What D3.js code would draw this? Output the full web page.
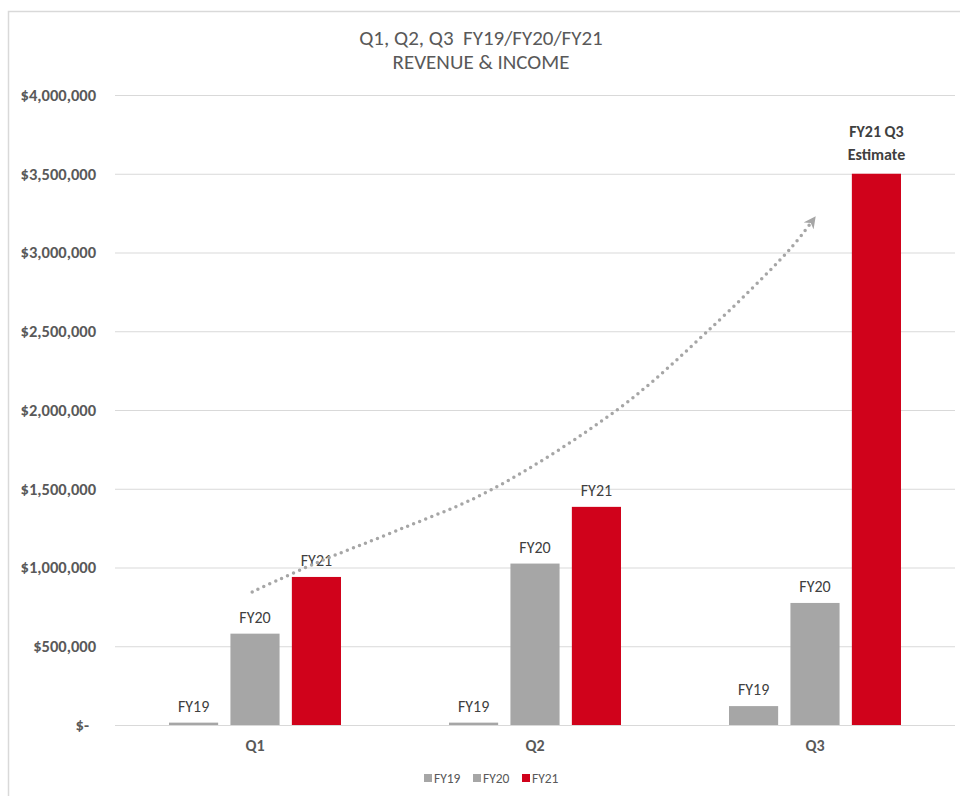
<!DOCTYPE html>
<html>
<head>
<meta charset="utf-8">
<script src="https://cdn.jsdelivr.net/npm/d3@7"></script>
<style>
  body { margin: 0; background: #fff; }
  text { font-family: Carlito, Calibri, "Liberation Sans", Arial, sans-serif; white-space: pre; }
</style>
</head>
<body>
<div id="chart"></div>
<script>
// chart data
var quarters = ["Q1", "Q2", "Q3"];
var years = ["FY19", "FY20", "FY21"];
var fy19 = [15000, 15000, 120000];
var fy20 = [580000, 1025000, 775000];
var fy21 = [940000, 1385000, 3500000];
var yTicks = [0, 500000, 1000000, 1500000, 2000000, 2500000, 3000000, 3500000, 4000000];
var titleLines = ["Q1, Q2, Q3  FY19/FY20/FY21", "REVENUE & INCOME"];
var estimateLabel = ["FY21 Q3", "Estimate"];
// trend arrow, in (quarter position, dollars)
var trendX = [0.49, 0.72, 1.0, 1.34, 1.8, 2.11, 2.41, 2.49];
var trendY = [845000, 1030000, 1230000, 1490000, 2010000, 2490000, 3020000, 3200000];

var colors = { FY19: "#a6a6a6", FY20: "#a6a6a6", FY21: "#d0021b" };
var series = [fy19, fy20, fy21];

var w = 960, h = 796;
var mLeft = 115, mRight = 955, mTop = 95, mBottom = 725;

var svg = d3.select("#chart").append("svg")
  .attr("width", w)
  .attr("height", h);

// outer chart border (only left/top visible)
svg.append("rect")
  .attr("x", 8.5).attr("y", 11.5)
  .attr("width", 1000).attr("height", 900)
  .attr("fill", "none")
  .attr("stroke", "#d9d9d9")
  .attr("stroke-width", 1.5);

var y = d3.scaleLinear().domain([0, 4000000]).range([mBottom, mTop]);
var x0 = d3.scaleBand().domain(quarters).range([mLeft, mRight]);
var x1 = d3.scaleBand().domain(years).range([-86, 86]).paddingInner(0.2);
var xPos = d3.scaleLinear().domain([0, 3]).range([mLeft, mRight]);

// title
svg.selectAll(".title")
  .data(titleLines)
  .enter()
  .append("text")
  .attr("x", 481)
  .attr("y", (d, i) => 45 + i * 24)
  .attr("text-anchor", "middle")
  .attr("font-size", 21)
  .attr("fill", "#595959")
  .text(d => d);

// grid + y axis
var yAxis = d3.axisLeft(y)
  .tickValues(yTicks)
  .tickSize(-(mRight - mLeft))
  .tickPadding(19)
  .tickFormat(d => d === 0 ? "$-" : "$" + d3.format(",")(d));

var gy = svg.append("g")
  .attr("transform", "translate(" + mLeft + ",0)")
  .call(yAxis);
gy.select(".domain").remove();
gy.selectAll(".tick line").attr("stroke", "#d9d9d9").attr("stroke-width", 1);
gy.selectAll(".tick text")
  .attr("font-size", 16.5)
  .attr("font-weight", "bold")
  .attr("fill", "#595959")
  .attr("dx", d => d === 0 ? -7 : 0);

// bars
var groups = svg.selectAll(".grp")
  .data(quarters)
  .enter()
  .append("g")
  .attr("transform", d => "translate(" + (x0(d) + x0.bandwidth() / 2) + ",0)");

var barData = (q, qi) => years.map((yr, si) => ({ q: q, qi: qi, yr: yr, v: series[si][qi] }));

groups.selectAll("rect")
  .data((q, qi) => barData(q, qi))
  .enter()
  .append("rect")
  .attr("x", d => x1(d.yr))
  .attr("width", x1.bandwidth())
  .attr("y", d => y(d.v))
  .attr("height", d => y(0) - y(d.v))
  .attr("fill", d => colors[d.yr]);

// data labels
groups.selectAll(".lbl")
  .data((q, qi) => barData(q, qi).filter(d => !(d.qi === 2 && d.yr === "FY21")))
  .enter()
  .append("text")
  .attr("x", d => x1(d.yr) + x1.bandwidth() / 2)
  .attr("y", d => y(d.v) - 11)
  .attr("text-anchor", "middle")
  .attr("font-size", 16)
  .attr("fill", "#404040")
  .text(d => d.yr);

// estimate label
svg.selectAll(".est")
  .data(estimateLabel)
  .enter()
  .append("text")
  .attr("x", x0("Q3") + x0.bandwidth() / 2 + x1("FY21") + x1.bandwidth() / 2)
  .attr("y", (d, i) => y(fy21[2]) - 37 + i * 23)
  .attr("text-anchor", "middle")
  .attr("font-size", 16)
  .attr("font-weight", "bold")
  .attr("fill", "#404040")
  .text(d => d);

// x axis labels
svg.selectAll(".qlbl")
  .data(quarters)
  .enter()
  .append("text")
  .attr("x", d => x0(d) + x0.bandwidth() / 2)
  .attr("y", mBottom + 26)
  .attr("text-anchor", "middle")
  .attr("font-size", 16)
  .attr("font-weight", "bold")
  .attr("fill", "#595959")
  .text(d => d);

// trend arrow
svg.append("defs").append("marker")
  .attr("id", "arrow")
  .attr("viewBox", "0 0 10 10")
  .attr("refX", 5).attr("refY", 5)
  .attr("markerWidth", 12).attr("markerHeight", 12)
  .attr("markerUnits", "userSpaceOnUse")
  .attr("orient", "auto")
  .append("path")
  .attr("d", "M0,0 L10,5 L0,10 L3,5 Z")
  .attr("fill", "#a6a6a6");

var trend = d3.line()
  .x(d => xPos(d[0]))
  .y(d => y(d[1]))
  .curve(d3.curveCatmullRom);

svg.append("path")
  .datum(d3.zip(trendX, trendY))
  .attr("d", trend)
  .attr("fill", "none")
  .attr("stroke", "#a6a6a6")
  .attr("stroke-width", 3.5)
  .attr("stroke-linecap", "round")
  .attr("stroke-dasharray", "0 6.5")
  .attr("marker-end", "url(#arrow)");

// legend
var legend = svg.selectAll(".leg")
  .data(years)
  .enter()
  .append("g")
  .attr("transform", (d, i) => "translate(" + (424 + i * 49) + ",774)");

legend.append("rect")
  .attr("width", 8).attr("height", 8)
  .attr("fill", d => colors[d]);

legend.append("text")
  .attr("x", 10)
  .attr("y", 9)
  .attr("font-size", 13.5)
  .attr("fill", "#595959")
  .text(d => d);
</script>
</body>
</html>
